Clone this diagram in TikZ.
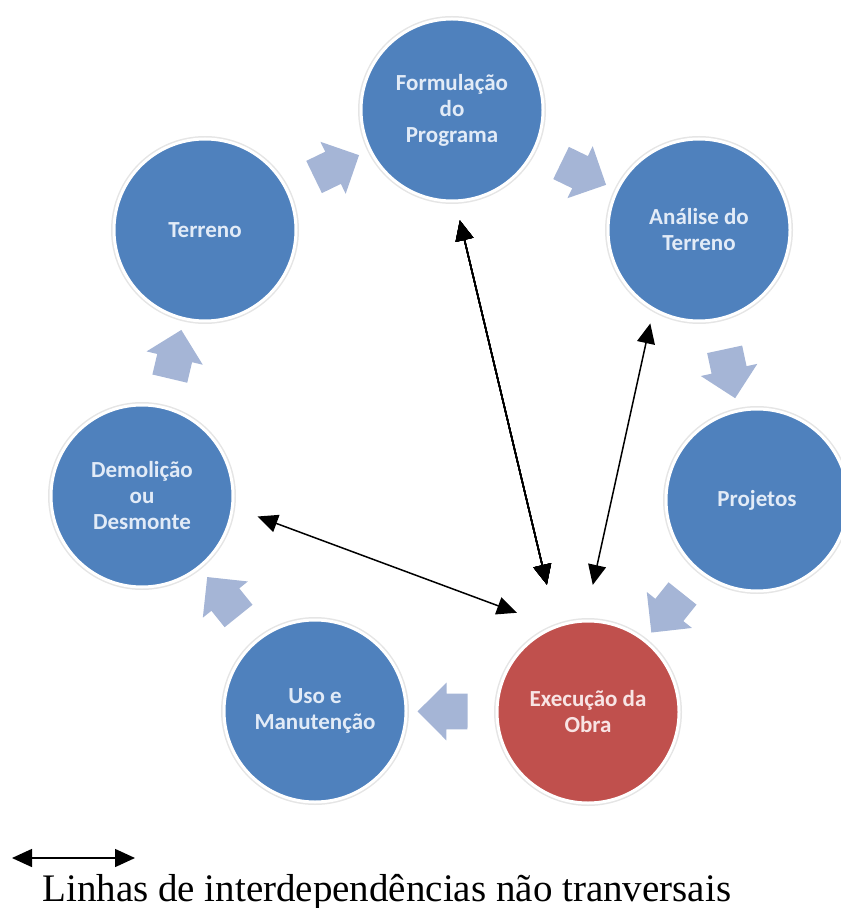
\documentclass[tikz,border=0pt]{standalone}
\usepackage{fontspec}
\usepackage{tikz}
\usetikzlibrary{positioning, shapes.arrows, arrows.meta}
\setmainfont{Liberation Serif}
\newfontfamily\stageFont{Carlito}
\definecolor{stageBlue}{RGB}{79,129,189}
\definecolor{stageRed}{RGB}{192,80,77}
\definecolor{stageTextBlue}{RGB}{226,235,247}
\definecolor{stageTextRed}{RGB}{248,228,228}
\definecolor{flowColor}{RGB}{165,181,214}
\tikzstyle{stageStyle} = [circle, minimum size = 91pt, inner sep = 0pt, outer sep = 0pt, fill=stageBlue, draw=white, line width = 1.5pt, preaction={draw=black!10, line width = 3pt}, align=center, text=stageTextBlue, font=\stageFont\bfseries\fontsize{11.5}{13}\selectfont]
\tikzstyle{executionStyle} = [stageStyle, fill=stageRed, text=stageTextRed]
\tikzstyle{flowArrowStyle} = [single arrow, fill=flowColor, draw=none, minimum height = 25pt, inner xsep = 0pt, inner ysep = 8.75pt, single arrow head extend = 5.5pt, sloped, allow upside down, midway]
\tikzstyle{linkLine} = [{Triangle[length=10pt, width=9pt]}-{Triangle[length=10pt, width=9pt]}, line width = .75pt, black]
\newcommand{\stage}[4]{\node [#4] (#1) at #2 {#3};}
\newcommand{\flowArrowBetween}[2]{\path (#1) -- node [flowArrowStyle] {} (#2);}

\begin{document}
\begin{tikzpicture}[x = .5pt, y = -.5pt]
  \useasboundingbox (0,0) rectangle (840,908);
  % the cycle
  \stage{formulacao}{(452,110)}{Formulação\\do\\Programa}{stageStyle}
  \stage{analise}{(699,230)}{Análise do\\Terreno}{stageStyle}
  \stage{projetos}{(757,500)}{Projetos}{stageStyle}
  \stage{execucao}{(588,712)}{Execução da\\Obra}{executionStyle}
  \stage{uso}{(315,711)}{Uso e\\Manutenção}{stageStyle}
  \stage{demolicao}{(142,496)}{Demolição\\ou\\Desmonte}{stageStyle}
  \stage{terreno}{(205,230)}{Terreno}{stageStyle}
  \foreach \from/\to in {terreno/formulacao, formulacao/analise, analise/projetos, projetos/execucao, execucao/uso, uso/demolicao, demolicao/terreno}
    \flowArrowBetween{\from}{\to}
  % interdependencies
  \draw [linkLine, shorten <= 10pt, shorten >= 21.5pt] (formulacao.-88) -- (execucao.110);
  \draw [linkLine, shorten <= 7.5pt, shorten >= 18.5pt] (analise.-120) -- (execucao.92.5);
  \draw [linkLine, shorten <= 13.5pt, shorten >= 20.5pt] (demolicao.-7) -- (execucao.111);
  % legend
  \coordinate (legendLeft) at (12,858);
  \coordinate (legendRight) at (135,858);
  \draw [linkLine] (legendLeft) -- (legendRight);
  \node [anchor=base west, inner sep=0pt, font=\fontsize{19.5}{22}\selectfont] (legendText) at (42,901) {Linhas de interdependências não tranversais};
\end{tikzpicture}
\end{document}
